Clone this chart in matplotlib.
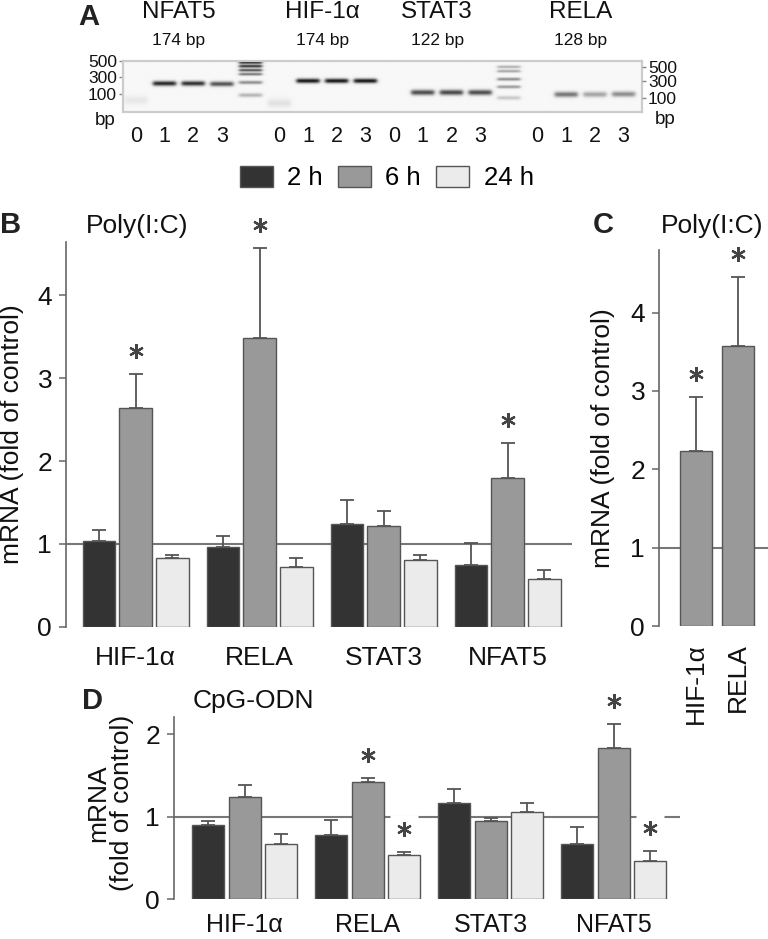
import numpy as np
import matplotlib
matplotlib.use('Agg')
import matplotlib.pyplot as plt
from matplotlib.patches import Patch
from matplotlib import transforms

plt.rcParams['font.family'] = ['Liberation Sans', 'DejaVu Sans']

W, H, DPI = 768, 939, 100

# ---------------- data ----------------
times = ['2 h', '6 h', '24 h']
time_colors = ['#333333', '#999999', '#ebebeb']

# Panel B: Poly(I:C)
genes_b = ['HIF-1\u03b1', 'RELA', 'STAT3', 'NFAT5']
b_2h = [1.04, 0.96, 1.24, 0.75]
b_6h = [2.64, 3.49, 1.22, 1.80]
b_24h = [0.83, 0.72, 0.80, 0.575]
b_2h_err = [0.13, 0.13, 0.29, 0.26]
b_6h_err = [0.41, 1.08, 0.18, 0.42]
b_24h_err = [0.03, 0.11, 0.065, 0.115]
b_2h_sig = [False, False, False, False]
b_6h_sig = [True, True, False, True]
b_24h_sig = [False, False, False, False]

# Panel C: Poly(I:C)
genes_c = ['HIF-1\u03b1', 'RELA']
c_vals = [2.24, 3.58]
c_err = [0.68, 0.88]
c_sig = [True, True]

# Panel D: CpG-ODN
genes_d = ['HIF-1\u03b1', 'RELA', 'STAT3', 'NFAT5']
d_2h = [0.90, 0.78, 1.16, 0.67]
d_6h = [1.24, 1.42, 0.95, 1.83]
d_24h = [0.67, 0.54, 1.06, 0.46]
d_2h_err = [0.05, 0.18, 0.18, 0.21]
d_6h_err = [0.14, 0.05, 0.04, 0.29]
d_24h_err = [0.12, 0.03, 0.11, 0.12]
d_2h_sig = [False, False, False, False]
d_6h_sig = [False, True, False, True]
d_24h_sig = [False, True, False, True]

# Panel A: gel
gel_genes = ['NFAT5', 'HIF-1\u03b1', 'STAT3', 'RELA']
gel_amplicons = ['174 bp', '174 bp', '122 bp', '128 bp']
gel_gene_lanes = [[0, 1, 2, 3], [5, 6, 7, 8], [9, 10, 11, 12], [14, 15, 16, 17]]
gel_lane_labels = ['0', '1', '2', '3']
gel_ladder_lanes = [4, 13]
# bands: lane, migration (from gel top), darkness, thickness
band_lane = [0, 1, 2, 3,
             4, 4, 4, 4, 4, 4,
             5, 6, 7, 8,
             10, 11, 12,
             13, 13, 13, 13, 13,
             15, 16, 17]
band_mig = [39.0, 22.3, 22.3, 22.8,
            1.3, 5.0, 9.0, 13.0, 21.3, 34.0,
            42.0, 19.7, 19.7, 19.7,
            31.3, 31.3, 31.3,
            5.7, 10.0, 18.0, 25.7, 36.7,
            33.3, 33.3, 33.0]
band_dark = [0.07, 0.88, 0.85, 0.70,
             0.90, 0.85, 0.70, 0.55, 0.45, 0.28,
             0.09, 0.95, 0.95, 0.95,
             0.72, 0.74, 0.72,
             0.30, 0.35, 0.45, 0.40, 0.20,
             0.55, 0.35, 0.45]
band_sigma = [3.0, 1.7, 1.7, 1.7,
              1.0, 1.0, 1.0, 1.0, 1.2, 1.4,
              3.0, 1.6, 1.6, 1.6,
              1.9, 1.9, 1.9,
              1.0, 1.0, 1.1, 1.1, 1.4,
              1.9, 1.9, 1.9]
gel_left_bp = ['500', '300', '100']
gel_left_mig = [0.0, 16.3, 33.3]
gel_right_bp = ['500', '300', '100']
gel_right_mig = [5.7, 20.0, 36.7]

# ---------------- style ----------------
AX_C = '#666666'
EDGE = '#555555'
STAR_C = '#444444'
FS = 19

fig = plt.figure(figsize=(W / DPI, H / DPI), dpi=DPI)


def rect(l, t, r, b):
    return [l / W, 1 - b / H, (r - l) / W, (b - t) / H]


def ftext(x, y, s, **kw):
    fig.text(x / W, 1 - y / H, s, **kw)


def style_axes(ax, ymax, yticks, xpad, xsize=FS):
    for s in ['top', 'right', 'bottom']:
        ax.spines[s].set_visible(False)
    ax.spines['left'].set_color(AX_C)
    ax.spines['left'].set_linewidth(1.2)
    ax.set_ylim(0, ymax)
    ax.set_yticks(yticks)
    ax.set_yticklabels([str(t) for t in yticks])
    ax.tick_params(axis='y', direction='out', length=5, width=1.1, color=AX_C,
                   labelsize=FS, pad=5, labelcolor='#111111')
    ax.tick_params(axis='x', length=0, labelsize=xsize, pad=xpad, labelcolor='#111111')
    ax.axhline(1, color='#777777', lw=1.5, zorder=1)


def draw_stars(ax, xs, tops):
    if len(xs) == 0:
        return
    tr = transforms.offset_copy(ax.transData, fig=fig, x=0, y=23, units='dots')
    ax.plot(xs, tops, ls='none', marker='s', ms=20, mfc='white', mec='none',
            transform=tr, zorder=4, clip_on=False)
    ax.plot(xs, tops, ls='none', marker=(6, 2, 0), ms=10.5, mec=STAR_C, mew=1.6,
            transform=tr, zorder=5, clip_on=False)


def grouped(ax, series, errs, sigs, genes, group_step=3.37, bw=0.88):
    centers = np.arange(len(genes)) * group_step
    for k, (vals, e, sg, col) in enumerate(zip(series, errs, sigs, time_colors)):
        x = centers + (k - 1)
        vals = np.asarray(vals, float)
        e = np.asarray(e, float)
        ax.bar(x, vals, width=bw, color=col, edgecolor=EDGE, lw=1.0, zorder=3)
        ax.errorbar(x, vals, yerr=[np.zeros_like(e), e], fmt='none', ecolor=EDGE,
                    elinewidth=1.3, capsize=5, capthick=1.3, zorder=2.5)
        sg = np.asarray(sg)
        draw_stars(ax, x[sg], (vals + e)[sg])
    ax.set_xticks(centers)
    ax.set_xticklabels(genes)


# ---------------- Panel A: gel ----------------
axg = fig.add_axes(rect(123.3, 61, 641.7, 111.7))
gx0, gx1 = -0.437, 17.63
gy1 = 50.7
gx = np.linspace(gx0, gx1, 900)
gy = np.linspace(0, gy1, 160)
X, Y = np.meshgrid(gx, gy)
dark = np.zeros_like(X)
for ln, mg, dk, sd in zip(band_lane, band_mig, band_dark, band_sigma):
    px = 1.0 / (1.0 + np.exp((np.abs(X - ln) - 0.40) / 0.035))
    py = np.exp(-0.5 * ((Y - mg) / sd) ** 2)
    dark += dk * px * py
img = 0.97 - 0.93 * np.clip(dark, 0, 1)
axg.imshow(img, cmap='gray', vmin=0, vmax=1, extent=(gx0, gx1, gy1, 0),
           aspect='auto', interpolation='bilinear')
axg.set_xlim(gx0, gx1)
axg.set_ylim(gy1, 0)
for s in axg.spines.values():
    s.set_color('#cccccc')
    s.set_linewidth(1.6)
lane_ticks = [l for grp in gel_gene_lanes for l in grp]
axg.set_xticks(lane_ticks)
axg.set_xticklabels(gel_lane_labels * len(gel_gene_lanes))
axg.tick_params(axis='x', length=0, labelsize=15.5, pad=10, labelcolor='#111111')
axg.set_yticks(gel_left_mig)
axg.set_yticklabels(gel_left_bp)
axg.tick_params(axis='y', direction='out', length=3, width=1, color='#888888',
                labelsize=12.5, pad=1.5, labelcolor='#111111')
axr = axg.twinx()
axr.set_ylim(gy1, 0)
axr.set_yticks(gel_right_mig)
axr.set_yticklabels(gel_right_bp)
axr.tick_params(axis='y', direction='out', length=3, width=1, color='#888888',
                labelsize=12.5, pad=1.5, labelcolor='#111111')
for s in axr.spines.values():
    s.set_visible(False)
gel_label_x = [np.mean(g) for g in gel_gene_lanes]
btr = transforms.blended_transform_factory(axg.transData, axg.transAxes)
for xl, gname, amp in zip(gel_label_x, gel_genes, gel_amplicons):
    axg.text(xl, (111.7 - 18.3) / 50.7, gname, transform=btr, ha='center',
             va='baseline', fontsize=17.5, color='#111111')
    axg.text(xl, (111.7 - 45.0) / 50.7, amp, transform=btr, ha='center',
             va='baseline', fontsize=12.5, color='#111111')
ftext(78, 25, 'A', fontsize=21, fontweight='bold', va='baseline', color='#222222')
ftext(105, 121, 'bp', fontsize=13.5, ha='center', va='center', color='#111111')
ftext(665, 120, 'bp', fontsize=13.5, ha='center', va='center', color='#111111')

# ---------------- legend ----------------
handles = [Patch(facecolor=c, edgecolor=EDGE, lw=1.0) for c in time_colors]
fig.legend(handles, times, ncol=3, loc='center', bbox_to_anchor=(386.7 / W, 1 - 178 / H),
           frameon=False, fontsize=18.5, handlelength=1.28, handleheight=0.93,
           handletextpad=0.56, columnspacing=0.6, borderpad=0, borderaxespad=0)

# ---------------- Panel B ----------------
axb = fig.add_axes(rect(66, 241.7, 571.7, 626.7))
style_axes(axb, 4.647, [0, 1, 2, 3, 4], xpad=14)
grouped(axb, [b_2h, b_6h, b_24h], [b_2h_err, b_6h_err, b_24h_err],
        [b_2h_sig, b_6h_sig, b_24h_sig], genes_b)
axb.set_xlim(-1.89, 11.85)
axb.set_ylabel('mRNA (fold of control)', fontsize=FS, ha='center', va='center', color='#111111')
axb.yaxis.set_label_coords((12 - 66) / 505.7, 0.5)
ftext(0, 233, 'B', fontsize=21, fontweight='bold', va='baseline', color='#222222')
ftext(86, 233, 'Poly(I:C)', fontsize=FS, va='baseline', color='#111111')

# ---------------- Panel C ----------------
axc = fig.add_axes(rect(659, 250, 768, 626))
style_axes(axc, 4.8, [0, 1, 2, 3, 4], xpad=12)
xc = np.arange(len(genes_c))
cv = np.asarray(c_vals)
ce = np.asarray(c_err)
axc.bar(xc, cv, width=0.78, color=time_colors[1], edgecolor=EDGE, lw=1.0, zorder=3)
axc.errorbar(xc, cv, yerr=[np.zeros_like(ce), ce], fmt='none', ecolor=EDGE,
             elinewidth=1.3, capsize=5, capthick=1.3, zorder=2.5)
draw_stars(axc, xc[np.asarray(c_sig)], (cv + ce)[np.asarray(c_sig)])
axc.set_xticks(xc)
axc.set_xticklabels(genes_c, rotation=90, va='top', ha='center')
axc.set_xlim(-0.894, 1.726)
axc.set_ylabel('mRNA (fold of control)', fontsize=FS, ha='center', va='center', color='#111111')
axc.yaxis.set_label_coords((603 - 659) / 109, 0.5)
ftext(593, 233, 'C', fontsize=21, fontweight='bold', va='baseline', color='#222222')
ftext(661, 233, 'Poly(I:C)', fontsize=FS, va='baseline', color='#111111')

# ---------------- Panel D ----------------
axd = fig.add_axes(rect(174, 716.7, 680, 899.3))
style_axes(axd, 2.21, [0, 1, 2], xpad=10, xsize=18)
grouped(axd, [d_2h, d_6h, d_24h], [d_2h_err, d_6h_err, d_24h_err],
        [d_2h_sig, d_6h_sig, d_24h_sig], genes_d)
axd.set_xlim(-1.94, 11.92)
axd.set_ylabel('mRNA\n(fold of control)', fontsize=FS, ha='center', va='center',
               color='#111111', linespacing=0.95)
axd.yaxis.set_label_coords((110 - 174) / 506, 0.527)
ftext(82, 709, 'D', fontsize=21, fontweight='bold', va='baseline', color='#222222')
ftext(193, 708, 'CpG-ODN', fontsize=FS, va='baseline', color='#111111')

fig.savefig('out.png', dpi=DPI)
